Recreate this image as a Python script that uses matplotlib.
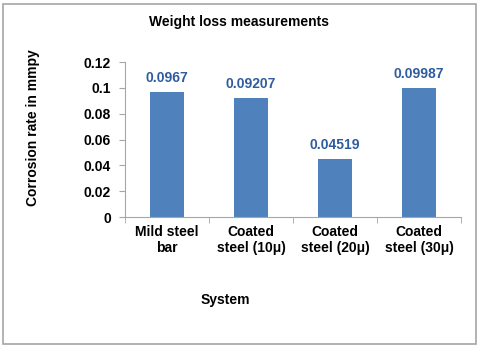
import matplotlib.pyplot as plt
from matplotlib.patches import Rectangle

categories = ['Mild steel\nbar', 'Coated\nsteel (10\u03bc)', 'Coated\nsteel (20\u03bc)', 'Coated\nsteel (30\u03bc)']
rates = [0.0967, 0.09207, 0.04519, 0.09987]
labels = ['0.0967', '0.09207', '0.04519', '0.09987']
yticks = [0, 0.02, 0.04, 0.06, 0.08, 0.1, 0.12]
ytick_labels = ['0', '0.02', '0.04', '0.06', '0.08', '0.1', '0.12']

plt.rcParams['font.family'] = ['Liberation Sans', 'DejaVu Sans']
plt.rcParams['font.weight'] = 'bold'

fig = plt.figure(figsize=(4.8, 3.48), dpi=100)
fig.patches.append(Rectangle((3/480, 4/348), 473/480, 340/348, transform=fig.transFigure,
                             fill=False, edgecolor='#a6a6a6', linewidth=1.2))

ax = fig.add_axes([125/480, 1-217/348, 336/480, 155/348])
x = range(len(categories))
ax.bar(x, rates, width=0.4, color='#4f81bd')
for i, v in enumerate(rates):
    ax.text(i, v + 0.0055, labels[i], ha='center', va='bottom', color='#2e5c9e',
            fontsize=10, fontweight='bold')

ax.set_xlim(-0.5, 3.5)
ax.set_ylim(0, 0.12)
ax.set_yticks(yticks)
ax.set_yticklabels(ytick_labels, fontsize=10, fontweight='bold')
ax.set_xticks(list(x))
ax.set_xticklabels(categories, fontsize=10, fontweight='bold', linespacing=1.15)
ax.tick_params(axis='x', length=0, pad=6)
ax.set_xticks([-0.5, 0.5, 1.5, 2.5, 3.5], minor=True)
ax.tick_params(axis='x', which='minor', length=4, color='#a6a6a6')
ax.tick_params(axis='y', length=4, color='#a6a6a6', pad=6)
for s in ['top', 'right']:
    ax.spines[s].set_visible(False)
ax.spines['left'].set_color('#a6a6a6')
ax.spines['bottom'].set_color('#a6a6a6')

fig.text(239/480, 1 - 22/348, 'Weight loss measurements', ha='center',
         va='center', fontsize=10, fontweight='bold')
fig.text(225/480, 1 - 300/348, 'System', ha='center', va='center', fontsize=10, fontweight='bold')
fig.text(33/480, 1 - 128/348, 'Corrosion rate in mmpy', ha='center', va='center',
         rotation=90, fontsize=10, fontweight='bold')

fig.savefig('out.png', dpi=100)
